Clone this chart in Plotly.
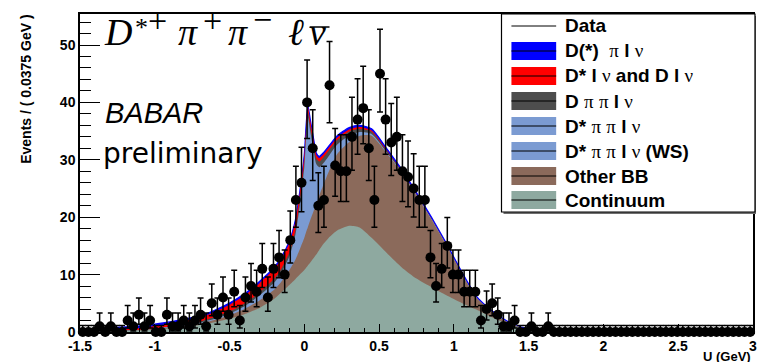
import math
import numpy as np
import plotly.graph_objects as go

# ---------------- data ----------------
BIN_WIDTH = 0.0375
U_MIN = -1.5
counts = [0, 0, 0, 1, 0, 1, 0, 0, 2, 1,
          3, 1, 2, 0, 0, 3, 1, 1, 2, 1,
          2, 3, 1, 5, 3, 6, 3, 7, 2, 6,
          8, 7, 11, 6, 11, 13, 10, 16, 23, 26,
          40, 32, 22, 23, 43, 29, 28, 28, 34, 37,
          39, 32, 23, 45, 37, 33, 34, 28, 27, 25,
          23, 23, 13, 8, 11, 15, 10, 10, 7, 7,
          7, 2, 4, 5, 3, 1, 1, 2, 0, 0,
          1, 0, 0, 1, 0, 0] + [0] * 34

# fit components (events per bin) sampled along U
model_u = [-1.5, -1.3, -1.1, -1.0, -0.9, -0.8, -0.7, -0.6, -0.5, -0.4,
           -0.3, -0.2, -0.15, -0.1, -0.06, -0.03, 0.0, 0.012, 0.024, 0.04,
           0.06, 0.08, 0.1, 0.13, 0.17, 0.22, 0.3, 0.37, 0.45, 0.55,
           0.65, 0.75, 0.85, 0.95, 1.05, 1.15, 1.25, 1.35, 1.45, 1.55,
           1.7, 2.0, 2.5, 3.0]
continuum = [0.05, 0.1, 0.25, 0.4, 0.6, 0.85, 1.2, 1.7, 2.3, 3.1,
             4.2, 5.8, 7.0, 8.2, 9.2, 10.0, 10.8, 11.2, 11.6, 12.1,
             12.8, 13.5, 14.3, 15.4, 16.6, 17.7, 18.5, 18.2, 16.4, 13.8,
             11.3, 9.3, 7.8, 6.4, 5.1, 3.9, 2.6, 1.5, 0.7, 0.3,
             0.08, 0.01, 0, 0]
other_bb = [0, 0.05, 0.1, 0.15, 0.2, 0.25, 0.3, 0.4, 0.6, 0.9,
            1.3, 1.6, 1.9, 2.6, 3.4, 4.4, 5.6, 6.2, 6.7, 7.4,
            8.1, 8.8, 9.5, 10.4, 11.7, 13.3, 14.6, 16.0, 17.8, 17.4,
            16.5, 14.5, 11.8, 8.7, 5.2, 2.1, 1.0, 0.35, 0.05, 0,
            0, 0, 0, 0]
dstar_pipi_ws = [0, 0, 0, 0, 0.01, 0.01, 0.01, 0.02, 0.03, 0.05,
                 0.08, 0.13, 0.16, 0.25, 0.4, 0.75, 1.2, 1.6, 1.85, 1.55,
                 1.1, 0.7, 0.5, 0.4, 0.3, 0.15, 0.15, 0.07, 0.03, 0.02,
                 0.01, 0.01, 0.01, 0, 0, 0, 0, 0, 0, 0,
                 0, 0, 0, 0]
dstar_pipi = [0, 0, 0, 0.02, 0.04, 0.09, 0.09, 0.18, 0.27, 0.45,
              0.77, 1.12, 1.44, 2.1, 3.9, 6.9, 11.1, 14.8, 17.2, 13.9,
              10.0, 6.25, 4.4, 3.3, 2.3, 1.5, 1.0, 0.58, 0.27, 0.13,
              0.09, 0.07, 0.04, 0.03, 0.02, 0, 0, 0, 0, 0,
              0, 0, 0, 0]
d_pipi = [0.02, 0.03, 0.05, 0.07, 0.1, 0.15, 0.2, 0.3, 0.35, 0.45,
          0.55, 0.65, 0.7, 0.75, 0.8, 0.85, 0.9, 0.9, 0.95, 0.95,
          1.0, 1.0, 1.0, 1.0, 0.95, 0.85, 0.7, 0.55, 0.4, 0.25,
          0.15, 0.1, 0.06, 0.04, 0.02, 0, 0, 0, 0, 0,
          0, 0, 0, 0]
dstar_lnu = [0.1, 0.2, 0.3, 0.4, 0.5, 0.6, 0.7, 0.9, 1.2, 1.4,
             1.6, 1.7, 1.7, 1.6, 1.5, 1.3, 1.1, 1.0, 0.9, 0.8,
             0.7, 0.65, 0.6, 0.5, 0.45, 0.4, 0.35, 0.3, 0.2, 0.1,
             0.05, 0.02, 0, 0, 0, 0, 0, 0, 0, 0,
             0, 0, 0, 0]
d_pi_lnu = [0.3, 0.35, 0.35, 0.35, 0.3, 0.3, 0.3, 0.3, 0.3, 0.3,
            0.3, 0.3, 0.3, 0.3, 0.3, 0.3, 0.3, 0.3, 0.3, 0.3,
            0.3, 0.3, 0.3, 0.3, 0.3, 0.3, 0.3, 0.3, 0.3, 0.3,
            0.3, 0.3, 0.3, 0.3, 0.3, 0.25, 0.2, 0.15, 0.1, 0.05,
            0.02, 0, 0, 0]

x_tick_vals = [-1.5, -1, -0.5, 0, 0.5, 1, 1.5, 2, 2.5, 3]
x_tick_text = ["-1.5", "-1", "-0.5", "0", "0.5", "1", "1.5", "2", "2.5", "3"]
y_tick_vals = [0, 10, 20, 30, 40, 50]
y_tick_text = ["0", "10", "20", "30", "40", "50"]

C_BLUE, C_RED, C_GRAY = "#0000ff", "#ff0000", "#4d4d4d"
C_LBLUE, C_BROWN, C_TEAL = "#7b9bd2", "#8b6a5b", "#8ea9a0"

# ---------------- geometry ----------------
W, H = 757, 362
ML, MR, MT, MB = 80, 0, 14, 30
PW, PH = W - ML - MR, H - MT - MB


def fx(px):
    return (px - ML) / PW


def fy(py):
    return (H - MB - py) / PH


# ---------------- Poisson errors (RooFit style) ----------------
def pois_cdf(n, mu):
    if n < 0:
        return 0.0
    s = 0.0
    for k in range(n + 1):
        s += math.exp(-mu + k * math.log(mu) - math.lgamma(k + 1)) if mu > 0 else (1.0 if k == 0 else 0.0)
    return s


def solve(f, target, lo, hi):
    for _ in range(80):
        mid = 0.5 * (lo + hi)
        if f(mid) > target:
            lo = mid
        else:
            hi = mid
    return 0.5 * (lo + hi)


err_up, err_dn = [], []
for n in counts:
    if n == 0:
        err_up.append(-math.log(1 - 0.682689))
        err_dn.append(0.0)
    else:
        a = (1 - 0.682689) / 2
        mu_u = solve(lambda m: pois_cdf(n, m), a, n, n + 10 * math.sqrt(n) + 10)
        mu_l = solve(lambda m: pois_cdf(n - 1, m), 1 - a, 1e-9, n)
        err_up.append(mu_u - n)
        err_dn.append(n - mu_l)

centers = U_MIN + BIN_WIDTH * (np.arange(len(counts)) + 0.5)

# ---------------- stacked model ----------------
comps = [continuum, other_bb, dstar_pipi_ws, dstar_pipi, d_pipi, dstar_lnu, d_pi_lnu]
colors = [C_TEAL, C_BROWN, C_LBLUE, C_LBLUE, C_GRAY, C_RED, C_BLUE]
cum = np.cumsum(np.array(comps, dtype=float), axis=0)

fig = go.Figure()
for level in range(len(comps) - 1, -1, -1):
    top = level == len(comps) - 1
    fig.add_trace(go.Scatter(
        x=model_u, y=cum[level], mode="lines",
        line=dict(color=C_BLUE if top else colors[level], width=1.2 if top else 0, shape="spline", smoothing=0.6),
        fill="tozeroy", fillcolor=colors[level], hoverinfo="skip"))

fig.add_trace(go.Scatter(
    x=centers, y=counts, mode="markers",
    marker=dict(color="black", size=10),
    error_y=dict(type="data", symmetric=False, array=err_up, arrayminus=err_dn,
                 color="black", thickness=1.5, width=3),
    cliponaxis=False, hoverinfo="skip"))

axis_font = dict(family="Liberation Sans", size=14, color="black", weight="bold")
fig.update_layout(
    width=W, height=H, autosize=False,
    margin=dict(l=ML, r=MR, t=MT, b=MB),
    paper_bgcolor="white", plot_bgcolor="white", showlegend=False,
    xaxis=dict(range=[-1.5, 3.0005], tickmode="array", tickvals=x_tick_vals, ticktext=x_tick_text,
               ticks="inside", ticklen=8, tickwidth=1, tickcolor="black", tickfont=axis_font,
               ticklabeloverflow="allow",
               showgrid=False, zeroline=False, showline=True, linecolor="black", linewidth=1.5,
               mirror=True,
               minor=dict(ticks="inside", ticklen=4, tickwidth=1, tickcolor="black",
                          tickmode="array", tickvals=list(np.round(np.arange(-1.5, 3.0001, 0.1), 3)))),
    yaxis=dict(range=[0, 55.4], tickmode="array", tickvals=y_tick_vals, ticktext=y_tick_text,
               ticks="inside", ticklen=20, tickwidth=1, tickcolor="black", tickfont=axis_font,
               showgrid=False, zeroline=False, showline=True, linecolor="black", linewidth=1.5,
               mirror=True,
               minor=dict(ticks="inside", ticklen=11, tickwidth=1, tickcolor="black",
                          tickmode="array", tickvals=list(range(0, 56, 2)))),
)

ann = []
shapes = []


def add_text(text, px, py, xanchor="left", yanchor="middle", **kw):
    d = dict(text=text, x=fx(px), y=fy(py), xref="paper", yref="paper",
             xanchor=xanchor, yanchor=yanchor, showarrow=False)
    d.update(kw)
    ann.append(d)


# axis titles
add_text("<b>Events / ( 0.0375 GeV )</b>", 26, 13, xanchor="center", yanchor="top", textangle=-90,
         font=dict(family="Liberation Sans", size=14, color="black"))
add_text("<b>U (GeV)</b>", 757, 356, xanchor="right",
         font=dict(family="Liberation Sans", size=13, color="black"))

# decay mode label
serif = "Liberation Serif"
title_parts = [
    ("<i>D</i>", 102, 32.3, 38),
    ("*", 133, 27.3, 26),
    ("+", 146, 20.1, 34),
    ("<i>π</i>", 177, 32.3, 38),
    ("+", 202, 20.1, 34),
    ("<i>π</i>", 227, 32.3, 38),
    ("\u2212", 252, 19, 34),
    ("<i>ℓ</i>", 287, 32.3, 38),
    ("<i>ν</i>", 308, 32.3, 38),
]
for txt, px, py, sz in title_parts:
    add_text(txt, px, py, font=dict(family=serif, size=sz, color="black"))
shapes.append(dict(type="line", xref="paper", yref="paper", x0=fx(311), x1=fx(331), y0=fy(27), y1=fy(27),
                   line=dict(color="black", width=1.5), layer="above"))

add_text("<i>BABAR</i>", 103, 113.3, font=dict(family="Liberation Sans", size=29, color="black"))
add_text("preliminary", 101, 153.5, font=dict(family="DejaVu Sans", size=28, color="black"))

# legend box
shapes.append(dict(type="rect", xref="paper", yref="paper", x0=fx(506), x1=fx(760), y0=fy(214), y1=fy(16),
                   fillcolor="#6e6e6e", line=dict(width=0), layer="above"))
shapes.append(dict(type="rect", xref="paper", yref="paper", x0=fx(504), x1=fx(759), y0=fy(212), y1=fy(14),
                   fillcolor="white", line=dict(color="black", width=1.2), layer="above"))


def g(s):
    return "<span style=\"font-family:Liberation Serif\">" + s + "</span>"


legend_labels = [
    "<b>Data</b>",
    "<b>D(*)</b>\u00a0 " + g("π") + " <b>l</b> " + g("ν"),
    "<b>D* l</b> " + g("ν") + " <b>and D l</b> " + g("ν"),
    "<b>D</b> " + g("π") + " " + g("π") + " <b>l</b> " + g("ν"),
    "<b>D*</b> " + g("π") + " " + g("π") + " <b>l</b> " + g("ν"),
    "<b>D*</b> " + g("π") + " " + g("π") + " <b>l</b> " + g("ν") + " <b>(WS)</b>",
    "<b>Other BB</b>",
    "<b>Continuum</b>",
]
legend_colors = [None, C_BLUE, C_RED, C_GRAY, C_LBLUE, C_LBLUE, C_BROWN, C_TEAL]
row_y = [26, 51, 76, 101, 126, 151, 176, 200]
for lab, col, ry in zip(legend_labels, legend_colors, row_y):
    if col is not None:
        shapes.append(dict(type="rect", xref="paper", yref="paper", x0=fx(514), x1=fx(559),
                           y0=fy(ry + 9), y1=fy(ry - 9), fillcolor=col, line=dict(width=0), layer="above"))
    shapes.append(dict(type="line", xref="paper", yref="paper", x0=fx(514), x1=fx(559),
                       y0=fy(ry), y1=fy(ry), line=dict(color="black", width=1), layer="above"))
    add_text(lab, 566, ry, font=dict(family="Liberation Sans", size=19, color="black"))

fig.update_layout(annotations=ann, shapes=shapes)
fig.write_html("out.html", config={"displayModeBar": False},
               post_script="document.body.style.margin='0px';")
